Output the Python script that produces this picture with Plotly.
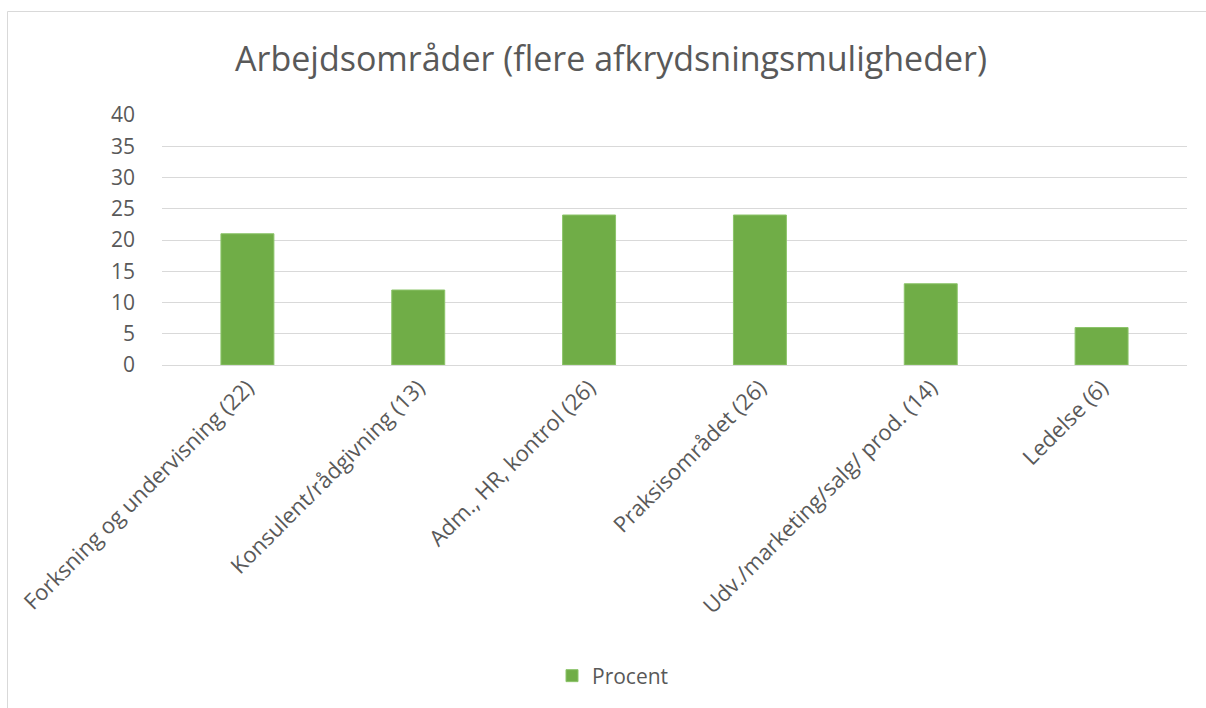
import plotly.graph_objects as go

categories = [
    "Forksning og undervisning (22)",
    "Konsulent/rådgivning (13)",
    "Adm., HR, kontrol (26)",
    "Praksisområdet (26)",
    "Udv./marketing/salg/ prod. (14)",
    "Ledelse (6)",
]
values = [21, 12, 24, 24, 13, 6]
series_name = "Procent"
title_text = "Arbejdsområder (flere afkrydsningsmuligheder)"
y_ticks = [0, 5, 10, 15, 20, 25, 30, 35, 40]

W, H = 1206, 708
ml, mt = 162, 115
mr = W - 1187
mb = H - 365
pw, ph = W - ml - mr, H - mt - mb

def px_x(x):
    return (x - ml) / pw

def px_y(y):
    return (H - mb - y) / ph

font_family = "Open Sans, sans-serif"
grey = "#595959"
border = "#D9D9D9"

fig = go.Figure()
fig.add_trace(go.Bar(
    x=categories, y=values, name=series_name,
    marker=dict(color="#70AD47", line=dict(color="#8CC46A", width=1)),
    width=0.31,
))

fig.update_layout(
    width=W, height=H,
    margin=dict(l=ml, r=mr, t=mt, b=mb),
    paper_bgcolor="white", plot_bgcolor="white",
    font=dict(family=font_family, color=grey, size=18),
    title=dict(text=title_text, x=611 / W, xref="container", xanchor="center",
               y=1 - 59 / H, yanchor="middle",
               font=dict(size=34, color=grey, family=font_family)),
    showlegend=True,
    legend=dict(orientation="h", x=px_x(552), xanchor="left", xref="paper",
                y=px_y(676), yanchor="middle",
                font=dict(size=21, color=grey)),
    xaxis=dict(tickangle=-45, showgrid=False, showline=True,
               linecolor=border, linewidth=1, ticks="",
               tickfont=dict(size=22, color=grey)),
    yaxis=dict(range=[0, 40], tickvals=y_ticks, showgrid=True,
               gridcolor=border, gridwidth=1, zeroline=False,
               showline=False, ticks="", ticklen=0, ticklabelstandoff=26,
               tickfont=dict(size=21, color=grey)),
    shapes=[
        dict(type="line", xref="paper", yref="paper",
             x0=px_x(7.5), x1=px_x(7.5), y0=px_y(740), y1=px_y(11.5),
             line=dict(color=border, width=1), layer="below"),
        dict(type="line", xref="paper", yref="paper",
             x0=px_x(7.5), x1=px_x(1240), y0=px_y(11.5), y1=px_y(11.5),
             line=dict(color=border, width=1), layer="below"),
    ],
)

fig.write_html(
    "out.html",
    config={"displayModeBar": False},
    post_script="document.body.style.margin='0';document.body.style.overflow='hidden';",
)
